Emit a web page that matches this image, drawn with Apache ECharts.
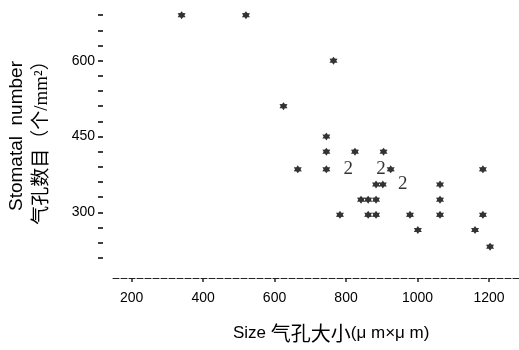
<!DOCTYPE html>
<html>
<head>
<meta charset="utf-8">
<script src="https://cdn.jsdelivr.net/npm/echarts@6/dist/echarts.min.js"></script>
<style>
  html, body { margin: 0; padding: 0; background: #fff; }
  #chart { width: 519px; height: 350px; }
</style>
</head>
<body>
<div id="chart"></div>
<script>
// single observations: [size (um x um), stomatal number (per mm2)]
var singlePoints = [
  [340, 690], [520, 690], [765, 600], [625, 510],
  [745, 450], [745, 420], [825, 420], [905, 420],
  [665, 385], [745, 385], [925, 385], [1183, 385],
  [884, 355], [903, 355], [1063, 355],
  [842, 325], [862, 325], [884, 325], [1063, 325],
  [783, 295], [862, 295], [884, 295], [979, 295], [1063, 295], [1183, 295],
  [1001, 265], [1161, 265],
  [1203, 232]
];
// coincident pairs, drawn as "2"
var doublePoints = [[806, 385], [898, 385], [959, 355]];

var xTicks = [200, 400, 600, 800, 1000, 1200];
var yLabels = [300, 450, 600];
var yTicks = [210, 240, 270, 300, 330, 360, 390, 420, 450, 480, 510, 540, 570, 600, 630, 660, 690];

// six-pointed asterisk marker
function starPath() {
  var pts = [];
  for (var i = 0; i < 12; i++) {
    var r = i % 2 === 0 ? 10 : 6;
    var a = (-90 + i * 30) * Math.PI / 180;
    pts.push((r * Math.cos(a)).toFixed(2) + ',' + (r * Math.sin(a)).toFixed(2));
  }
  return 'path://M' + pts.join('L') + 'Z';
}

var chart = echarts.init(document.getElementById('chart'), null, { renderer: 'canvas' });

var option = {
  animation: false,
  grid: { left: 113, right: 0, top: 0, bottom: 72 },
  xAxis: {
    type: 'value',
    min: 148,
    max: 1284,
    splitLine: { show: false },
    axisLine: { show: true, lineStyle: { color: '#222', width: 1, type: [6, 2] } },
    axisTick: { show: true, length: 4, customValues: xTicks, lineStyle: { color: '#222', width: 1.5 } },
    axisLabel: {
      customValues: xTicks,
      margin: 13,
      color: '#000',
      fontSize: 14,
      fontFamily: 'Liberation Sans',
      formatter: function (v) { return String(v); }
    }
  },
  yAxis: {
    type: 'value',
    min: 170,
    max: 720,
    offset: 10,
    splitLine: { show: false },
    axisLine: { show: false },
    axisTick: { show: true, length: 5, customValues: yTicks, lineStyle: { color: '#111', width: 1.6 } },
    axisLabel: {
      customValues: yLabels,
      margin: 8,
      color: '#000',
      fontSize: 14,
      fontFamily: 'Liberation Sans',
      formatter: function (v) { return String(v); }
    }
  },
  series: [
    {
      name: 'single',
      type: 'scatter',
      data: singlePoints,
      symbol: starPath(),
      symbolSize: 8,
      itemStyle: { color: '#000' }
    },
    {
      name: 'double',
      type: 'scatter',
      data: doublePoints,
      symbolSize: 1,
      itemStyle: { color: 'rgba(0,0,0,0)' },
      label: {
        show: true,
        position: 'inside',
        formatter: '2',
        color: '#000',
        fontSize: 19,
        fontFamily: 'Liberation Serif'
      }
    }
  ],
  graphic: [
    {
      type: 'text',
      x: 17, y: 136,
      rotation: Math.PI / 2,
      style: {
        text: 'Stomatal  number',
        fill: '#000',
        font: '19px "Liberation Sans"',
        align: 'center',
        verticalAlign: 'middle'
      }
    },
    {
      type: 'text',
      x: 42, y: 138,
      rotation: Math.PI / 2,
      style: {
        text: '气孔数目（个/mm²）',
        fill: '#000',
        font: '19px "Liberation Serif", "Noto Sans CJK SC"',
        align: 'center',
        verticalAlign: 'middle'
      }
    },
    {
      type: 'text',
      x: 233, y: 333,
      style: {
        text: '{a|Size }{b|气孔大小}{a|(μ m×μ m)}',
        fill: '#000',
        verticalAlign: 'middle',
        rich: {
          a: { fontSize: 17, fontFamily: 'Liberation Sans', fill: '#000' },
          b: { fontSize: 20, fontFamily: 'Noto Sans CJK SC', fill: '#000' }
        }
      }
    }
  ]
};

chart.setOption(option);
</script>
</body>
</html>
